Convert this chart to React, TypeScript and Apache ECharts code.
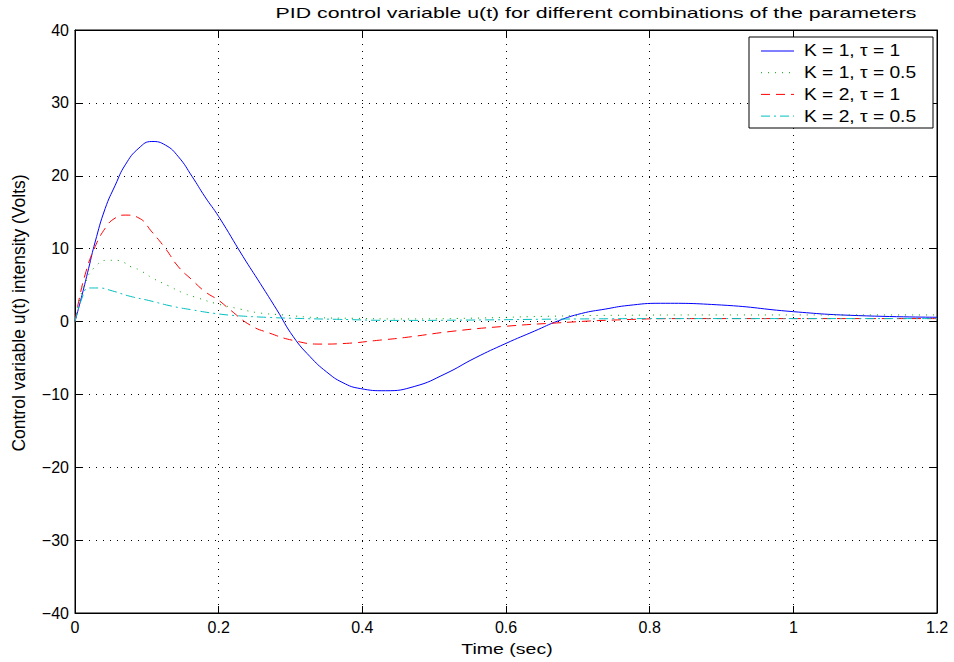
import React, { useEffect, useRef } from "react";
import * as echarts from "echarts";

const title = "PID control variable u(t) for different combinations of the parameters";
const xName = "Time (sec)";
const yName = "Control variable u(t) intensity (Volts)";
const seriesNames = ["K = 1, \u03c4 = 1", "K = 1, \u03c4 = 0.5", "K = 2, \u03c4 = 1", "K = 2, \u03c4 = 0.5"];
const seriesColors = ["#0000ff", "#00a000", "#ff0000", "#00bfbf"];

const tBlue = [0, 0.0097, 0.019, 0.028, 0.042, 0.056, 0.07, 0.089, 0.107, 0.126, 0.144, 0.163, 0.181, 0.2, 0.234, 0.258, 0.281, 0.304, 0.327, 0.35, 0.373, 0.397, 0.432, 0.473, 0.515, 0.557, 0.6, 0.64, 0.673, 0.705, 0.738, 0.77, 0.815, 0.9, 1.0, 1.079, 1.2];
const uBlue = [0, 3.6, 7.3, 10.9, 15.5, 18.7, 21.5, 23.8, 24.7, 24.2, 22.6, 19.9, 17.1, 14.4, 8.9, 5.2, 1.6, -2.1, -4.8, -6.9, -8.4, -9.2, -9.5, -8.9, -7.2, -5.0, -3.0, -1.3, 0.1, 1.1, 1.7, 2.2, 2.5, 2.26, 1.35, 0.85, 0.58];

const tGreen = [0, 0.007, 0.015, 0.026, 0.045, 0.056, 0.068, 0.078, 0.089, 0.109, 0.13, 0.151, 0.172, 0.195, 0.23, 0.255, 0.29, 0.341, 0.387, 0.45, 0.55, 0.65, 0.75, 0.9, 1.05, 1.2];
const uGreen = [0, 3.2, 5.5, 7.3, 8.4, 8.4, 8.1, 7.5, 7.1, 5.9, 4.9, 3.9, 3.2, 2.5, 1.7, 1.2, 0.9, 0.52, 0.44, 0.35, 0.45, 0.7, 0.85, 0.9, 0.9, 0.9];

const tRed = [0, 0.005, 0.014, 0.026, 0.042, 0.056, 0.07, 0.089, 0.107, 0.126, 0.144, 0.163, 0.181, 0.2, 0.216, 0.244, 0.271, 0.304, 0.341, 0.378, 0.42, 0.459, 0.529, 0.6, 0.67, 0.75, 0.85, 1.0, 1.2];
const uRed = [0, 2.7, 6.4, 9.8, 12.8, 14.2, 14.6, 14.2, 12.3, 10.0, 7.5, 5.7, 4.1, 2.9, 1.6, -0.5, -1.6, -2.6, -3.1, -3.0, -2.6, -2.2, -1.3, -0.65, -0.2, 0.2, 0.4, 0.4, 0.4];

const tCyan = [0, 0.0097, 0.019, 0.033, 0.052, 0.075, 0.102, 0.135, 0.163, 0.195, 0.225, 0.267, 0.304, 0.364, 0.45, 0.55, 0.7, 0.85, 1.0, 1.2];
const uCyan = [0, 3.2, 4.6, 4.6, 4.2, 3.5, 2.9, 2.1, 1.6, 1.1, 0.8, 0.57, 0.44, 0.3, 0.15, 0.2, 0.35, 0.4, 0.4, 0.4];

const zip = (t: number[], u: number[]) => t.map((v, i) => [v, u[i]]);

export default function App() {
  const ref = useRef<HTMLDivElement>(null);
  useEffect(() => {
    if (!ref.current) return;
    const chart = echarts.init(ref.current, null, { renderer: "svg" });
    const font = "'Liberation Sans', Arial, Helvetica, sans-serif";
    const dashes: any[] = [null, [1, 6], [9, 6], [9, 4, 2, 4]];
    const splitLine = () => ({ show: true, lineStyle: { color: "#000", type: [1, 6] as any, width: 1 } });
    const tick = () => ({ show: true, inside: true, length: 7, lineStyle: { color: "#000", width: 1 } });
    const mk = (i: number, data: number[][]) => ({
      name: seriesNames[i],
      type: "line",
      data,
      showSymbol: false,
      symbol: "none",
      smooth: 0.5,
      lineStyle: { color: seriesColors[i], type: dashes[i] || "solid", width: 1 },
      itemStyle: { color: seriesColors[i] },
      xAxisIndex: 0,
      yAxisIndex: 0,
    });
    const legendX = 749, legendY = 37, legendW = 184, legendH = 91;
    const legendItems: any[] = [];
    seriesNames.forEach((n, i) => {
      const cy = 51 + i * 21.7;
      legendItems.push({
        type: "line",
        shape: { x1: 761, y1: cy, x2: 794, y2: cy },
        style: { stroke: seriesColors[i], lineWidth: 1, lineDash: dashes[i] || undefined },
        z: 101,
      });
      legendItems.push({
        type: "text",
        x: 804,
        y: cy,
        scaleX: 1.2,
        style: { text: n, fontFamily: font, fontSize: 16, fill: "#000", textAlign: "left", textVerticalAlign: "middle" },
        z: 101,
      });
    });
    chart.setOption({
      animation: false,
      backgroundColor: "#fff",
      textStyle: { fontFamily: font },
      graphic: [
        {
          type: "text",
          x: 596,
          y: 13,
          scaleX: 1.42,
          style: { text: title, fontFamily: font, fontSize: 15, fill: "#000", textAlign: "center", textVerticalAlign: "middle" },
        },
        {
          type: "text",
          x: 507,
          y: 649,
          scaleX: 1.3,
          style: { text: xName, fontFamily: font, fontSize: 15, fill: "#000", textAlign: "center", textVerticalAlign: "middle" },
        },
        {
          type: "text",
          x: 19,
          y: 313,
          rotation: Math.PI / 2,
          style: { text: yName, fontFamily: font, fontSize: 17.5, fill: "#000", textAlign: "center", textVerticalAlign: "middle" },
        },
        {
          type: "rect",
          shape: { x: legendX, y: legendY, width: legendW, height: legendH },
          style: { fill: "#fff", stroke: "#000", lineWidth: 1 },
          z: 100,
        },
        ...legendItems,
      ],
      grid: { left: 75, right: 17, top: 30, bottom: 49, show: true, borderColor: "#000", borderWidth: 1, containLabel: false },
      xAxis: [
        {
          type: "value",
          min: 0,
          max: 1.2,
          interval: 0.2,
          axisLine: { show: true, onZero: false, lineStyle: { color: "#000" } },
          axisTick: tick(),
          axisLabel: { fontFamily: font, fontSize: 16, color: "#000", margin: 6, formatter: (v: number) => String(Math.round(v * 10) / 10) },
          splitLine: splitLine(),
        },
        {
          type: "value",
          position: "top",
          min: 0,
          max: 1.2,
          interval: 0.2,
          axisLine: { show: true, onZero: false, lineStyle: { color: "#000" } },
          axisTick: tick(),
          axisLabel: { show: false },
          splitLine: { show: false },
        },
      ],
      yAxis: [
        {
          type: "value",
          min: -40,
          max: 40,
          interval: 10,
          axisLine: { show: true, onZero: false, lineStyle: { color: "#000" } },
          axisTick: tick(),
          axisLabel: { fontFamily: font, fontSize: 16, color: "#000", margin: 6, formatter: (v: number) => (v < 0 ? "\u2212" + Math.abs(v) : String(v)) },
          splitLine: splitLine(),
        },
        {
          type: "value",
          position: "right",
          min: -40,
          max: 40,
          interval: 10,
          axisLine: { show: true, onZero: false, lineStyle: { color: "#000" } },
          axisTick: tick(),
          axisLabel: { show: false },
          splitLine: { show: false },
        },
      ],
      series: [
        mk(0, zip(tBlue, uBlue)),
        mk(1, zip(tGreen, uGreen)),
        mk(2, zip(tRed, uRed)),
        mk(3, zip(tCyan, uCyan)),
      ],
    });
    return () => chart.dispose();
  }, []);
  return <div ref={ref} style={{ width: 954, height: 662, position: "fixed", left: 0, top: 0 }} />;
}
